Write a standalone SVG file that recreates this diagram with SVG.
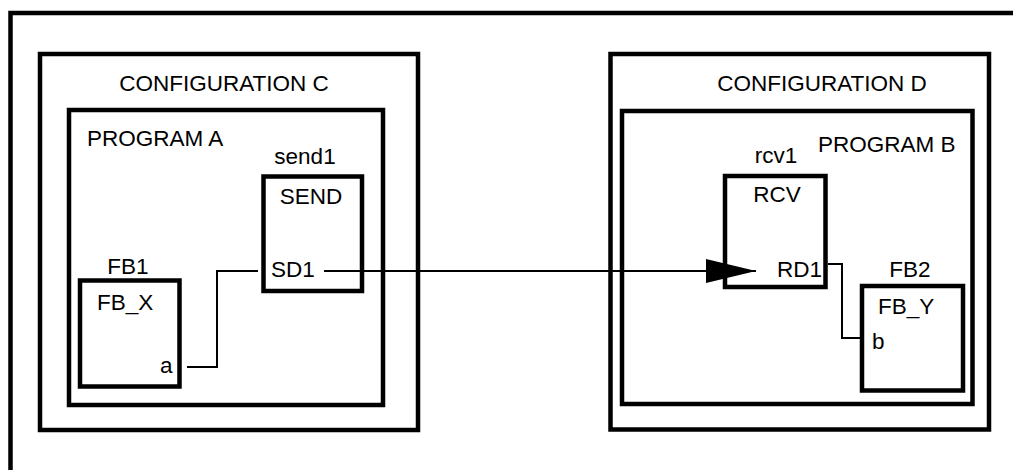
<svg xmlns="http://www.w3.org/2000/svg" width="1013" height="470" viewBox="0 0 1013 470">
  <defs>
    <style>
      .frame { fill: none; stroke: #000; stroke-width: 4.5; }
      .box { fill: #fff; stroke: #000; stroke-width: 4.5; }
      .wire { fill: none; stroke: #000; stroke-width: 2; }
      text { font-family: "Liberation Sans", Arial, sans-serif; font-size: 22.5px; fill: #000; }
      .mid { text-anchor: middle; }
    </style>
    <marker id="arrow" markerUnits="userSpaceOnUse" markerWidth="52" markerHeight="26" refX="50" refY="12" orient="auto">
      <path d="M0,0 L50,12 L0,24 Z" fill="#000"/>
    </marker>
  </defs>

  <rect width="1013" height="470" fill="#fff"/>

  <!-- outer system frame, runs off the right and bottom edges -->
  <path class="frame" d="M10.5,480 V13 H1020"/>

  <!-- configuration C -->
  <g id="config-c">
    <rect class="box" x="40" y="54" width="378" height="376"/>
    <text class="mid" x="224" y="91">CONFIGURATION C</text>
  </g>
  <g id="program-a">
    <rect class="box" x="69" y="110" width="314" height="295"/>
    <text x="87" y="146">PROGRAM A</text>
  </g>
  <g id="send1">
    <text class="mid" x="305" y="164">send1</text>
    <rect class="box" x="263.5" y="176.5" width="98.5" height="114.5"/>
    <text class="mid" x="311" y="204">SEND</text>
    <text x="271" y="277">SD1</text>
  </g>
  <g id="fb1">
    <text class="mid" x="128" y="274">FB1</text>
    <rect class="box" x="80" y="280.5" width="99.5" height="106"/>
    <text x="97" y="310">FB_X</text>
    <text x="160" y="373">a</text>
  </g>

  <!-- configuration D -->
  <g id="config-d">
    <rect class="box" x="610.5" y="54" width="378.5" height="375.5"/>
    <text class="mid" x="822" y="91">CONFIGURATION D</text>
  </g>
  <g id="program-b">
    <rect class="box" x="622" y="111" width="350.5" height="293"/>
    <text x="818" y="152">PROGRAM B</text>
  </g>
  <g id="rcv1">
    <text class="mid" x="776" y="163">rcv1</text>
    <rect class="box" x="725" y="176" width="100.5" height="111"/>
    <text class="mid" x="777" y="202">RCV</text>
    <text x="777" y="277">RD1</text>
  </g>
  <g id="fb2">
    <text class="mid" x="910" y="277">FB2</text>
    <rect class="box" x="862" y="286" width="101" height="104.5"/>
    <text x="878" y="314">FB_Y</text>
    <text x="872" y="349">b</text>
  </g>

  <!-- connections -->
  <g id="connectors">
    <polyline class="wire" points="258,271 217,271 217,367 187,367"/>
    <line class="wire" x1="324" y1="271" x2="756" y2="271" marker-end="url(#arrow)"/>
    <polyline class="wire" points="828,264 842,264 842,338 861,338"/>
  </g>
</svg>
